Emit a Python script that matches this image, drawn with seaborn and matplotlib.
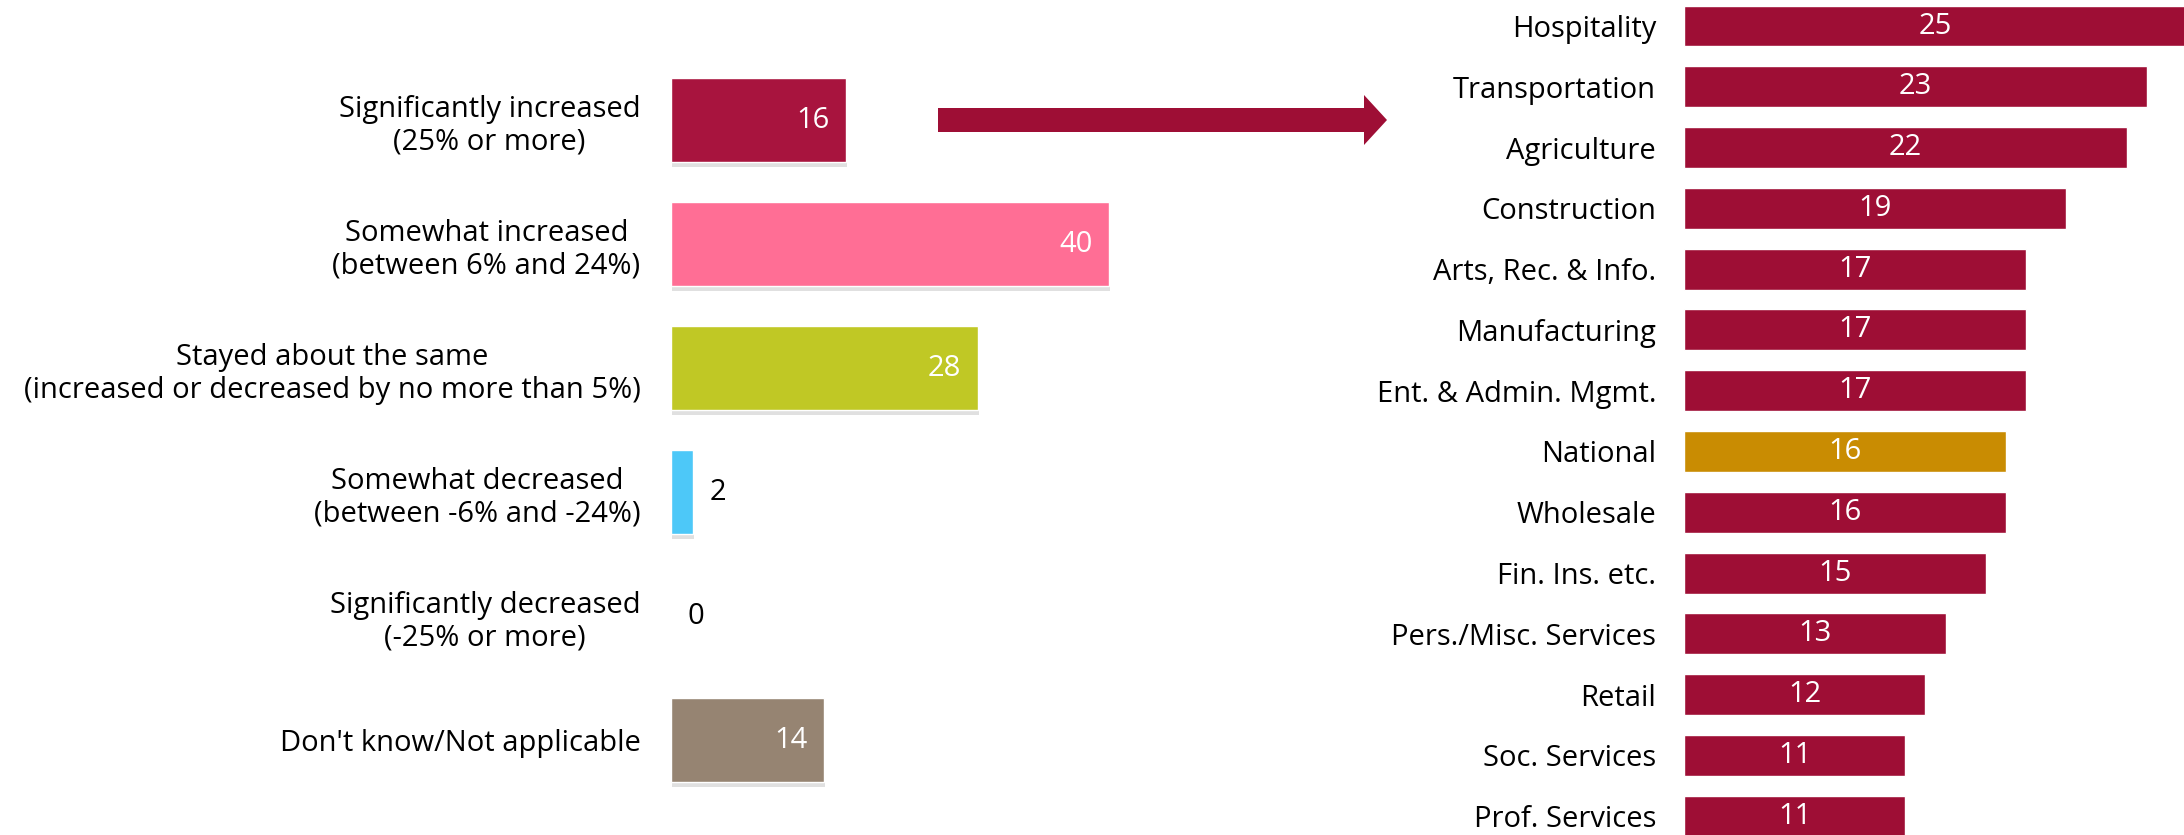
import matplotlib
matplotlib.use("Agg")
import matplotlib.pyplot as plt
import matplotlib.patheffects as pe
from matplotlib.patches import Polygon
import seaborn as sns
import pandas as pd

# ---- data ----
left_categories = [
    "Significantly increased\n(25% or more)",
    "Somewhat increased\n(between 6% and 24%)",
    "Stayed about the same\n(increased or decreased by no more than 5%)",
    "Somewhat decreased\n(between -6% and -24%)",
    "Significantly decreased\n(-25% or more)",
    "Don't know/Not applicable",
]
left_values = [16, 40, 28, 2, 0, 14]
left_colors = ["#A8143E", "#FF6E95", "#C0C825", "#4DC8F8", "#FFFFFF", "#968472"]

right_categories = [
    "Hospitality", "Transportation", "Agriculture", "Construction",
    "Arts, Rec. & Info.", "Manufacturing", "Ent. & Admin. Mgmt.", "National",
    "Wholesale", "Fin. Ins. etc.", "Pers./Misc. Services", "Retail",
    "Soc. Services", "Prof. Services",
]
right_values = [25, 23, 22, 19, 17, 17, 17, 16, 16, 15, 13, 12, 11, 11]
bar_red = "#9E0E35"
national_gold = "#C98C02"
right_colors = [national_gold if c == "National" else bar_red for c in right_categories]

# ---- figure ----
sns.set_theme(style="white")
plt.rcParams["font.family"] = ["Open Sans", "DejaVu Sans"]
W, H = 2184, 835
fig = plt.figure(figsize=(W / 100, H / 100), dpi=100)
FS = 21

# Left panel
axL = fig.add_axes([671 / W, 0, (1150 - 671) / W, 1])
dfL = pd.DataFrame({"cat": left_categories, "val": left_values})
sns.barplot(data=dfL, x="val", y="cat", hue="cat", palette=left_colors,
            legend=False, orient="h", width=0.685, ax=axL, saturation=1)
axL.set_xlim(0, (1150 - 671) / 10.95)
axL.set_ylim(5.766, -0.968)
for p, v in zip(axL.patches, left_values):
    if v > 0:
        p.set_path_effects([pe.SimplePatchShadow(offset=(0.8, -3), shadow_rgbFace="#999999", alpha=0.3),
                            pe.Normal()])
    y = p.get_y() + p.get_height() / 2
    if v >= 10:
        axL.annotate(str(v), (v, y), xytext=(-12, 0), textcoords="offset points",
                     ha="right", va="center", color="white", fontsize=FS)
    else:
        axL.annotate(str(v), (v, y), xytext=(12, 0), textcoords="offset points",
                     ha="left", va="center", color="black", fontsize=FS)
axL.set_xlabel("")
axL.set_ylabel("")
axL.set_xticks([])
axL.tick_params(axis="y", length=0, pad=22, labelsize=FS, labelcolor="black")
for t in axL.get_yticklabels():
    t.set_multialignment("center")
sns.despine(ax=axL, left=True, bottom=True)

# Right panel
axR = fig.add_axes([1684 / W, 0, (W - 1684) / W, 1])
dfR = pd.DataFrame({"cat": right_categories, "val": right_values})
sns.barplot(data=dfR, x="val", y="cat", hue="cat", palette=right_colors,
            legend=False, orient="h", width=0.674, ax=axR, saturation=1)
axR.set_xlim(0, (W - 1684) / 20.12)
axR.set_ylim(13.31, -0.428)
for p, v in zip(axR.patches, right_values):
    axR.text(v / 2, p.get_y() + p.get_height() / 2, str(v), ha="center", va="center",
             color="white", fontsize=FS)
axR.set_xlabel("")
axR.set_ylabel("")
axR.set_xticks([])
axR.tick_params(axis="y", length=0, pad=20, labelsize=FS, labelcolor="black")
sns.despine(ax=axR, left=True, bottom=True)

# Arrow overlay
axO = fig.add_axes([0, 0, 1, 1], facecolor="none")
axO.set_xlim(0, W)
axO.set_ylim(H, 0)
axO.axis("off")
arrow = Polygon([(938, 108), (1364, 108), (1364, 95), (1387, 120), (1364, 145),
                 (1364, 132), (938, 132)], closed=True, facecolor=bar_red, edgecolor="none")
axO.add_patch(arrow)

fig.savefig("out.png", dpi=100, facecolor="white")
